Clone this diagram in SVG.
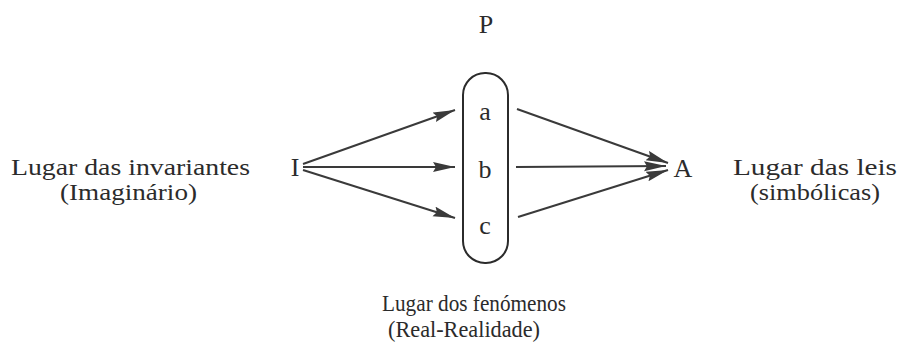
<svg xmlns="http://www.w3.org/2000/svg" width="902" height="351" viewBox="0 0 902 351">
<defs>
<style>
text{font-family:'Liberation Serif','DejaVu Serif',serif;fill:#2b2b2b;font-size:26px}
.c{text-anchor:middle}
.s{font-size:23px}
.ln{stroke:#3a3a3a;stroke-width:2;fill:none}
</style>
<marker id="ah" markerUnits="userSpaceOnUse" markerWidth="24" markerHeight="12" refX="22" refY="5" orient="auto">
<path d="M0,0 L22,5 L0,10 L3,5 Z" fill="#3a3a3a"/>
</marker>
</defs>
<rect width="902" height="351" fill="#fff"/>
<g font-family="Liberation Serif, DejaVu Serif, serif">
<g id="labelP"><text class="c" x="486" y="33">P</text></g>
<g id="nodeI"><text class="c" x="295" y="176">I</text></g>
<g id="nodeA"><text class="c" x="683" y="177">A</text></g>
<g id="nodeP">
<rect x="463" y="73" width="45" height="190" rx="22" ry="22" fill="none" stroke="#2b2b2b" stroke-width="2"/>
<text class="c" x="485" y="120">a</text>
<text class="c" x="485" y="178">b</text>
<text class="c" x="485" y="234">c</text>
</g>
<g id="labelLeft">
<text class="s" x="11" y="175" textLength="239" lengthAdjust="spacingAndGlyphs">Lugar das invariantes</text>
<text class="s" x="60" y="200" textLength="137" lengthAdjust="spacingAndGlyphs">(Imaginário)</text>
</g>
<g id="labelRight">
<text class="s" x="733" y="175" textLength="164" lengthAdjust="spacingAndGlyphs">Lugar das leis</text>
<text class="s" x="750" y="200" textLength="130" lengthAdjust="spacingAndGlyphs">(simbólicas)</text>
</g>
<g id="labelBottom">
<text class="s" x="382" y="311" textLength="184" lengthAdjust="spacingAndGlyphs">Lugar dos fenómenos</text>
<text class="s" x="388" y="337" textLength="152" lengthAdjust="spacingAndGlyphs">(Real-Realidade)</text>
</g>
</g>
<g id="connectors">
<line class="ln" x1="303" y1="164" x2="455" y2="110" marker-end="url(#ah)"/>
<line class="ln" x1="303" y1="167" x2="455" y2="167" marker-end="url(#ah)"/>
<line class="ln" x1="303" y1="170" x2="455" y2="218" marker-end="url(#ah)"/>
<line class="ln" x1="517" y1="109" x2="668" y2="163" marker-end="url(#ah)"/>
<line class="ln" x1="516" y1="167" x2="666" y2="166" marker-end="url(#ah)"/>
<line class="ln" x1="518" y1="217" x2="668" y2="170" marker-end="url(#ah)"/>
</g>
</svg>
